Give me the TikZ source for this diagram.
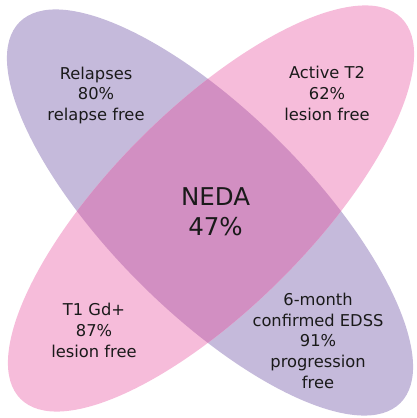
\documentclass[tikz,border=0pt]{standalone}
\usepackage{fontspec}
\setmainfont{DejaVu Sans}
\definecolor{purplefill}{RGB}{197,186,219}
\definecolor{pinkfill}{RGB}{246,188,218}
\definecolor{overlapfill}{RGB}{210,143,194}
\definecolor{txt}{RGB}{26,26,26}
\begin{document}
\begin{tikzpicture}[x=1pt,y=1pt,
  lbl/.style={align=center,inner sep=0pt,text=txt,font=\fontsize{16.3}{20.6}\selectfont},
  big/.style={align=center,inner sep=0pt,text=txt,font=\fontsize{24.5}{30}\selectfont}]
\useasboundingbox (0,0) rectangle (416,418);
% ellipses
\fill[purplefill] (210,205.5) [rotate around={-45:(210,205.5)}] ellipse (269.3 and 99.5);
\fill[pinkfill] (211,209.5) [rotate around={45:(211,209.5)}] ellipse (269.3 and 99.5);
\begin{scope}
  \clip (210,205.5) [rotate around={-45:(210,205.5)}] ellipse (269.3 and 99.5);
  \fill[overlapfill] (211,209.5) [rotate around={45:(211,209.5)}] ellipse (269.3 and 99.5);
\end{scope}
% labels
\node[lbl] (relapses) at (96,322.5) {Relapses\\80\%\\relapse free};
\node[lbl] (activet2) at (327,324.5) {Active T2\\62\%\\lesion free};
\node[big] (neda) at (215.5,206) {NEDA\\47\%};
\node[lbl] (t1gd) at (94,87.5) {T1 Gd+\\87\%\\lesion free};
\node[lbl] (edss) at (318,77.2) {6-month\\confirmed EDSS\\91\%\\progression\\free};
\end{tikzpicture}
\end{document}
